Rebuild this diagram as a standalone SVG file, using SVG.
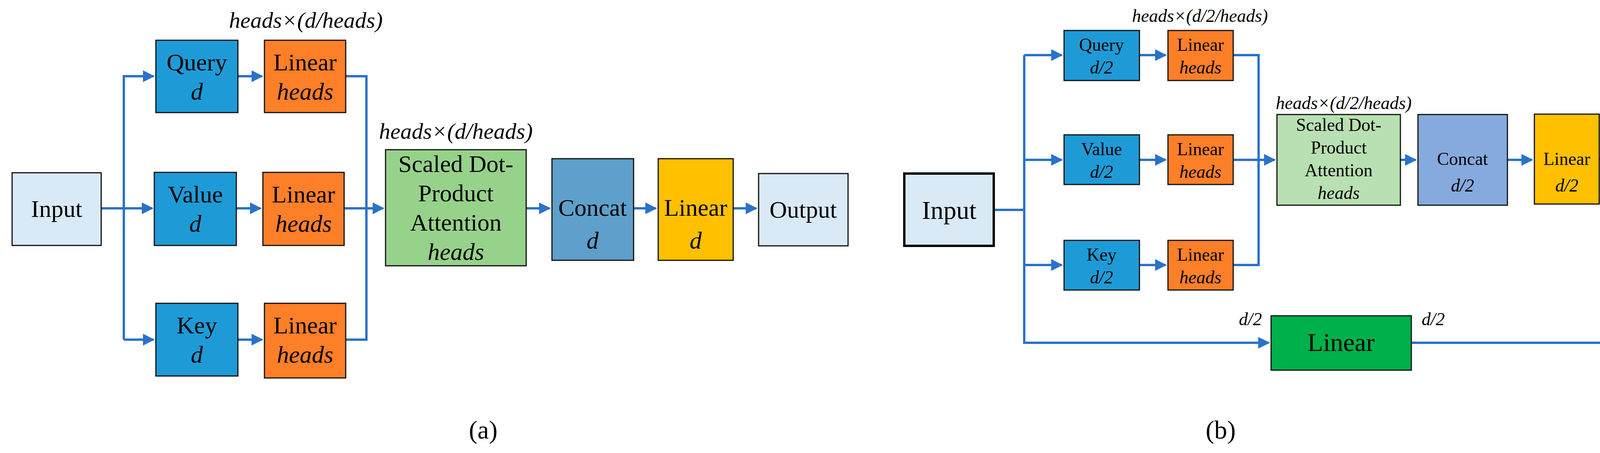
<svg xmlns="http://www.w3.org/2000/svg" width="4394" height="1159" viewBox="0 0 4394 1159" font-family="'Liberation Serif', 'DejaVu Serif', serif">
<defs>
<marker id="ah" viewBox="0 0 10 10" refX="9" refY="5" markerWidth="5" markerHeight="5" markerUnits="strokeWidth" orient="auto"><path d="M0,0 L10,5 L0,10 z" fill="#2A72C9"/></marker>
<style>
.b{stroke:#111;stroke-width:3}
.bt{stroke:#000;stroke-width:6}
text{font-family:'Liberation Serif','DejaVu Serif',serif;text-anchor:middle;fill:#000}
.i{font-style:italic}
.c{fill:none;stroke:#2A72C9;stroke-width:6}
</style>
</defs>
<rect x="0" y="0" width="4394" height="1159" fill="#fff"/>
<g id="connectors">
<path class="c" d="M259,533 H390" marker-end="url(#ah)"/>
<path class="c" d="M317,869 V195 H393" marker-end="url(#ah)"/>
<path class="c" d="M317,869 H393" marker-end="url(#ah)"/>
<path class="c" d="M609,195 H671" marker-end="url(#ah)"/>
<path class="c" d="M605,533 H667" marker-end="url(#ah)"/>
<path class="c" d="M609,869 H671" marker-end="url(#ah)"/>
<path class="c" d="M885,195 H938 V869 H885"/>
<path class="c" d="M881,533 H981" marker-end="url(#ah)"/>
<path class="c" d="M1347,533 H1407" marker-end="url(#ah)"/>
<path class="c" d="M1622,533 H1679" marker-end="url(#ah)"/>
<path class="c" d="M1877,533 H1936" marker-end="url(#ah)"/>
<path class="c" d="M2544,537 H2622"/>
<path class="c" d="M2622,141 V877 H3248" marker-end="url(#ah)"/>
<path class="c" d="M2622,141 H2718" marker-end="url(#ah)"/>
<path class="c" d="M2622,409 H2718" marker-end="url(#ah)"/>
<path class="c" d="M2622,678 H2718" marker-end="url(#ah)"/>
<path class="c" d="M2917,141 H2984" marker-end="url(#ah)"/>
<path class="c" d="M2917,409 H2984" marker-end="url(#ah)"/>
<path class="c" d="M2917,678 H2984" marker-end="url(#ah)"/>
<path class="c" d="M3157,141 H3222 V678 H3157"/>
<path class="c" d="M3157,409 H3263" marker-end="url(#ah)"/>
<path class="c" d="M3585,409 H3624" marker-end="url(#ah)"/>
<path class="c" d="M3859,409 H3922" marker-end="url(#ah)"/>
<path class="c" d="M4094,406 H4139" marker-end="url(#ah)"/>
<path class="c" d="M3613,877 H4260 V504" marker-end="url(#ah)"/>
</g>
<g id="a-input"><rect class="b" x="31" y="442" width="228" height="186" fill="#DAE9F6"/><text x="145" y="555" font-size="62">Input</text></g>
<g id="a-query"><rect class="b" x="399" y="103" width="210" height="185" fill="#1E9BD7"/><text x="504" y="180" font-size="62">Query</text><text class="i" x="504" y="255" font-size="62">d</text></g>
<g id="a-lq"><rect class="b" x="677" y="103" width="208" height="185" fill="#FD7F28"/><text x="781" y="180" font-size="62">Linear</text><text class="i" x="781" y="255" font-size="62">heads</text></g>
<g id="a-value"><rect class="b" x="395" y="441" width="210" height="187" fill="#1E9BD7"/><text x="500" y="518" font-size="62">Value</text><text class="i" x="500" y="593" font-size="62">d</text></g>
<g id="a-lv"><rect class="b" x="673" y="441" width="208" height="187" fill="#FD7F28"/><text x="777" y="518" font-size="62">Linear</text><text class="i" x="777" y="593" font-size="62">heads</text></g>
<g id="a-key"><rect class="b" x="399" y="776" width="210" height="186" fill="#1E9BD7"/><text x="504" y="853" font-size="62">Key</text><text class="i" x="504" y="928" font-size="62">d</text></g>
<g id="a-lk"><rect class="b" x="677" y="776" width="208" height="191" fill="#FD7F28"/><text x="781" y="853" font-size="62">Linear</text><text class="i" x="781" y="928" font-size="62">heads</text></g>
<g id="a-sdpa"><rect class="b" x="987" y="383" width="360" height="297" fill="#97D28A"/><text x="1167" y="440" font-size="62">Scaled Dot-</text><text x="1167" y="515" font-size="62">Product</text><text x="1167" y="590" font-size="62">Attention</text><text class="i" x="1167" y="665" font-size="62">heads</text></g>
<g id="a-concat"><rect class="b" x="1413" y="406" width="209" height="260" fill="#5EA0CB"/><text x="1517" y="552" font-size="62">Concat</text><text class="i" x="1517" y="636" font-size="62">d</text></g>
<g id="a-linear"><rect class="b" x="1685" y="406" width="192" height="260" fill="#FFC000"/><text x="1781" y="552" font-size="62">Linear</text><text class="i" x="1781" y="636" font-size="62">d</text></g>
<g id="a-output"><rect class="b" x="1942" y="444" width="229" height="185" fill="#DAE9F6"/><text x="2056" y="557" font-size="62">Output</text></g>
<text class="i" x="783" y="71" font-size="58">heads×(d/heads)</text>
<text class="i" x="1167" y="355" font-size="58">heads×(d/heads)</text>
<text x="1237" y="1122" font-size="66">(a)</text>
<g id="b-input"><rect class="bt" x="2315" y="444" width="229" height="185" fill="#DAE9F6"/><text x="2430" y="560" font-size="66">Input</text></g>
<g id="b-query"><rect class="b" x="2724" y="78" width="193" height="128" fill="#1E9BD7"/><text x="2820" y="130" font-size="46">Query</text><text class="i" x="2820" y="188" font-size="46">d/2</text></g>
<g id="b-lq"><rect class="b" x="2990" y="78" width="167" height="128" fill="#FD7F28"/><text x="3073" y="130" font-size="46">Linear</text><text class="i" x="3073" y="188" font-size="46">heads</text></g>
<g id="b-value"><rect class="b" x="2724" y="345" width="193" height="127" fill="#1E9BD7"/><text x="2820" y="397" font-size="46">Value</text><text class="i" x="2820" y="455" font-size="46">d/2</text></g>
<g id="b-lv"><rect class="b" x="2990" y="345" width="167" height="127" fill="#FD7F28"/><text x="3073" y="397" font-size="46">Linear</text><text class="i" x="3073" y="455" font-size="46">heads</text></g>
<g id="b-key"><rect class="b" x="2724" y="615" width="193" height="127" fill="#1E9BD7"/><text x="2820" y="667" font-size="46">Key</text><text class="i" x="2820" y="725" font-size="46">d/2</text></g>
<g id="b-lk"><rect class="b" x="2990" y="615" width="167" height="127" fill="#FD7F28"/><text x="3073" y="667" font-size="46">Linear</text><text class="i" x="3073" y="725" font-size="46">heads</text></g>
<g id="b-sdpa"><rect class="b" x="3269" y="293" width="316" height="232" fill="#B9E0B2"/><text x="3427" y="335" font-size="46">Scaled Dot-</text><text x="3427" y="393" font-size="46">Product</text><text x="3427" y="451" font-size="46">Attention</text><text class="i" x="3427" y="509" font-size="46">heads</text></g>
<g id="b-concat"><rect class="b" x="3630" y="293" width="229" height="232" fill="#86AADE"/><text x="3744" y="422" font-size="46">Concat</text><text class="i" x="3744" y="490" font-size="46">d/2</text></g>
<g id="b-linear"><rect class="b" x="3928" y="292" width="166" height="230" fill="#FFC000"/><text x="4011" y="422" font-size="46">Linear</text><text class="i" x="4011" y="490" font-size="46">d/2</text></g>
<g id="b-output"><rect class="bt" x="4145" y="313" width="230" height="185" fill="#DAE9F6"/><text x="4260" y="428" font-size="64">Output</text></g>
<g id="b-glinear"><rect class="b" x="3254" y="808" width="359" height="139" fill="#00B04A"/><text x="3433" y="898" font-size="66">Linear</text></g>
<text class="i" x="3072" y="56" font-size="46">heads×(d/2/heads)</text>
<text class="i" x="3440" y="279" font-size="46">heads×(d/2/heads)</text>
<text class="i" x="3201" y="832" font-size="46">d/2</text>
<text class="i" x="3669" y="832" font-size="46">d/2</text>
<text x="3125" y="1122" font-size="66">(b)</text>
</svg>
